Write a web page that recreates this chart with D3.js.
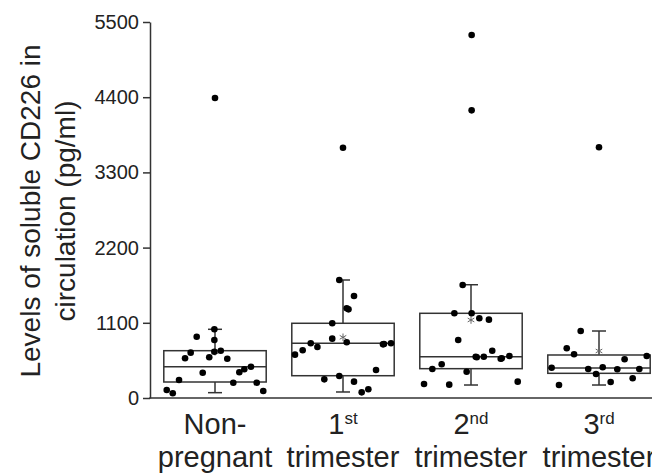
<!DOCTYPE html>
<html>
<head>
<meta charset="utf-8">
<script src="https://cdn.jsdelivr.net/npm/d3@7"></script>
<style>
  body { margin: 0; background: #fff; }
  svg { display: block; font-family: "Liberation Sans", Arial, sans-serif; }
</style>
</head>
<body>
<svg id="chart" width="652" height="476"></svg>
<script>
// Groups and their two-line axis labels
const groups = ["Non-pregnant", "1st trimester", "2nd trimester", "3rd trimester"];
const labelTop = ["Non-", "1", "2", "3"];
const labelSup = ["", "st", "nd", "rd"];
const labelBottom = ["pregnant", "trimester", "trimester", "trimester"];

// Box summary per group (pg/ml)
const whiskerLow  = [78, 88, 190, 190];
const q1          = [234, 326, 429, 361];
const median      = [458, 800, 604, 439];
const q3          = [692, 1093, 1239, 629];
const whiskerHigh = [1005, 1726, 1657, 980];
const means       = [677, 888, 1141, 688];

// Individual samples per group, with horizontal jitter as a fraction of the group width
const valuesNonPregnant = [1005, 897, 848, 663, 581, 595, 677, 692, 575, 370, 376, 420, 458, 263, 224, 224, 117, 69, 102, 4388];
const jitterNonPregnant = [-0.005, -0.143, -0.005, -0.19, -0.234, -0.045, -0.005, 0.045, 0.096, -0.096, 0.19, 0.229, 0.281, -0.281, 0.143, 0.326, -0.377, -0.33, 0.377, 0];

const valuesFirst = [1726, 1492, 1312, 1297, 1093, 868, 815, 800, 746, 698, 634, 785, 790, 800, 410, 273, 322, 239, 83, 127, 3661];
const jitterFirst = [-0.029, 0.086, 0.029, 0.043, -0.084, -0.084, 0.029, -0.252, -0.2, -0.315, -0.375, 0.3125, 0.32, 0.375, 0.258, -0.146, -0.029, 0.086, 0.146, 0.198, 0];

const valuesSecond = [1653, 1239, 1239, 1166, 1146, 848, 604, 595, 604, 692, 575, 580, 614, 493, 424, 385, 205, 195, 239, 5310, 4208];
const jitterSecond = [-0.065, -0.13, 0.005, 0.065, 0.14, -0.1, 0.037, 0.045, 0.1, 0.166, 0.232, 0.24, 0.3, -0.229, -0.302, -0.034, -0.367, -0.17, 0.365, 0.005, 0.005];

const valuesThird = [980, 727, 639, 443, 424, 351, 449, 420, 566, 424, 614, 234, 288, 190, 3667];
const jitterThird = [-0.143, -0.252, -0.195, -0.37, -0.084, -0.023, 0.029, 0.143, 0.2, 0.315, 0.373, 0.091, 0.263, -0.3125, 0];

const groupValues = [valuesNonPregnant, valuesFirst, valuesSecond, valuesThird];
const groupJitter = [jitterNonPregnant, jitterFirst, jitterSecond, jitterThird];

const yTicks = [0, 1100, 2200, 3300, 4400, 5500];

// ---- layout ----
const svg = d3.select("#chart");
const axisLeftX = 150;
const ink = "#222";
const boxStroke = "#333";

const y = d3.scaleLinear().domain([0, 5500]).range([398, 22]);
const x = d3.scaleBand().domain(groups).range([151, 663]).padding(0);
const bw = x.bandwidth();
const boxW = bw * 0.8;
const capW = 14;
const cx = g => x(g) + bw / 2;

// y axis
const yAxis = svg.append("g")
  .attr("transform", `translate(${axisLeftX},0)`)
  .call(d3.axisLeft(y).tickValues(yTicks).tickSize(7).tickSizeOuter(0).tickPadding(4).tickFormat(d3.format("d")));
yAxis.select(".domain").attr("stroke", boxStroke).attr("stroke-width", 1.5);
yAxis.selectAll(".tick line").attr("stroke", boxStroke).attr("stroke-width", 1.5);
yAxis.selectAll(".tick text").attr("fill", ink).style("font-size", "20px");

// x axis baseline
svg.append("line")
  .attr("x1", axisLeftX - 0.75).attr("x2", 652)
  .attr("y1", y(0)).attr("y2", y(0))
  .attr("stroke", boxStroke).attr("stroke-width", 1.5);

// boxes and whiskers
const box = svg.append("g").selectAll("g").data(groups).join("g");
box.append("line")
  .attr("x1", cx).attr("x2", cx)
  .attr("y1", (d, i) => y(whiskerHigh[i])).attr("y2", (d, i) => y(q3[i]))
  .attr("stroke", boxStroke).attr("stroke-width", 1.5);
box.append("line")
  .attr("x1", cx).attr("x2", cx)
  .attr("y1", (d, i) => y(q1[i])).attr("y2", (d, i) => y(whiskerLow[i]))
  .attr("stroke", boxStroke).attr("stroke-width", 1.5);
[whiskerHigh, whiskerLow].forEach(arr => {
  box.append("line")
    .attr("x1", d => cx(d) - capW / 2).attr("x2", d => cx(d) + capW / 2)
    .attr("y1", (d, i) => y(arr[i])).attr("y2", (d, i) => y(arr[i]))
    .attr("stroke", boxStroke).attr("stroke-width", 1.5);
});
box.append("rect")
  .attr("x", d => cx(d) - boxW / 2)
  .attr("width", boxW)
  .attr("y", (d, i) => y(q3[i]))
  .attr("height", (d, i) => y(q1[i]) - y(q3[i]))
  .attr("fill", "none").attr("stroke", boxStroke).attr("stroke-width", 1.5);
box.append("line")
  .attr("x1", d => cx(d) - boxW / 2).attr("x2", d => cx(d) + boxW / 2)
  .attr("y1", (d, i) => y(median[i])).attr("y2", (d, i) => y(median[i]))
  .attr("stroke", boxStroke).attr("stroke-width", 1.5);

// mean markers
const star = d3.symbol().type(d3.symbolAsterisk).size(40);
box.append("path")
  .attr("d", star)
  .attr("transform", (d, i) => `translate(${cx(d)},${y(means[i])})`)
  .attr("fill", "none").attr("stroke", "#666").attr("stroke-width", 1);

// sample points
const points = groups.flatMap((g, gi) =>
  groupValues[gi].map((v, k) => ({ g, v, j: groupJitter[gi][k] })));
svg.append("g").selectAll("circle").data(points).join("circle")
  .attr("cx", d => cx(d.g) + d.j * bw)
  .attr("cy", d => y(d.v))
  .attr("r", 3.3)
  .attr("fill", "#000");

// category labels
const lab = svg.append("g").selectAll("g").data(groups).join("g")
  .attr("transform", d => `translate(${cx(d)},0)`)
  .attr("fill", ink).style("font-size", "29px").attr("text-anchor", "middle");
const firstLine = lab.append("text").attr("y", 434);
firstLine.append("tspan").text((d, i) => labelTop[i]);
firstLine.append("tspan")
  .attr("dy", -10).style("font-size", "17px")
  .text((d, i) => labelSup[i]);
lab.append("text").attr("y", 467).text((d, i) => labelBottom[i]);

// y axis title
const title = svg.append("g").attr("fill", ink).style("font-size", "28px").attr("text-anchor", "middle");
title.append("text").attr("transform", "translate(40,211) rotate(-90)").text("Levels of soluble CD226 in");
title.append("text").attr("transform", "translate(75,211) rotate(-90)").text("circulation (pg/ml)");
</script>
</body>
</html>
